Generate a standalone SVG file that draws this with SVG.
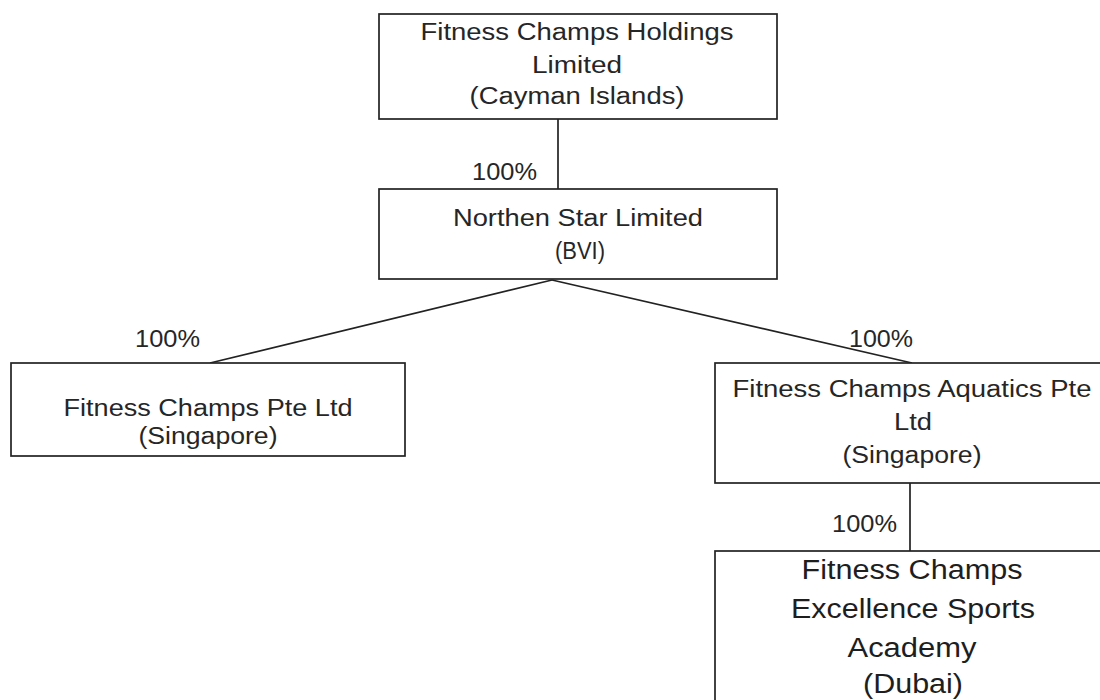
<svg xmlns="http://www.w3.org/2000/svg" width="1100" height="700" viewBox="0 0 1100 700">
<style>
.box{fill:#fff;stroke:#222;stroke-width:1.7}
.t{font-family:"Liberation Sans",Arial,sans-serif;font-size:23px;fill:#262626;text-anchor:middle}
.tb{font-family:"Liberation Sans",Arial,sans-serif;font-size:27px;fill:#1e1e1e;text-anchor:middle}
.lbl{font-family:"Liberation Sans",Arial,sans-serif;font-size:23px;fill:#262626}
.c{stroke:#222;stroke-width:1.7;fill:none}
</style>
<rect width="1100" height="700" fill="#fff"/>
<g id="connectors">
<line class="c" x1="558" y1="119" x2="558" y2="189"/>
<line class="c" x1="552" y1="280" x2="210" y2="363"/>
<line class="c" x1="552" y1="280" x2="912" y2="363"/>
<line class="c" x1="910" y1="483" x2="910" y2="551"/>
<text class="lbl" x="472" y="180" textLength="65" lengthAdjust="spacingAndGlyphs">100%</text>
<text class="lbl" x="135" y="347" textLength="65" lengthAdjust="spacingAndGlyphs">100%</text>
<text class="lbl" x="849" y="347" textLength="64" lengthAdjust="spacingAndGlyphs">100%</text>
<text class="lbl" x="832" y="532" textLength="65" lengthAdjust="spacingAndGlyphs">100%</text>
</g>
<g id="holdings">
<rect class="box" x="379" y="14" width="398" height="105"/>
<text class="t" x="577" y="40" textLength="313" lengthAdjust="spacingAndGlyphs">Fitness Champs Holdings</text>
<text class="t" x="577" y="73" textLength="90" lengthAdjust="spacingAndGlyphs">Limited</text>
<text class="t" x="577" y="104" textLength="215" lengthAdjust="spacingAndGlyphs">(Cayman Islands)</text>
</g>
<g id="northen">
<rect class="box" x="379" y="189" width="398" height="90"/>
<text class="t" x="578" y="226" textLength="250" lengthAdjust="spacingAndGlyphs">Northen Star Limited</text>
<text class="t" x="580" y="259" textLength="50" lengthAdjust="spacingAndGlyphs">(BVI)</text>
</g>
<g id="fc-pte">
<rect class="box" x="11" y="363" width="394" height="93"/>
<text class="t" x="208" y="416" textLength="289" lengthAdjust="spacingAndGlyphs">Fitness Champs Pte Ltd</text>
<text class="t" x="208" y="444" textLength="139" lengthAdjust="spacingAndGlyphs">(Singapore)</text>
</g>
<g id="fc-aquatics">
<rect class="box" x="715" y="363" width="400" height="120"/>
<text class="t" x="912" y="397" textLength="359" lengthAdjust="spacingAndGlyphs">Fitness Champs Aquatics Pte</text>
<text class="t" x="913" y="430" textLength="38" lengthAdjust="spacingAndGlyphs">Ltd</text>
<text class="t" x="912" y="463" textLength="139" lengthAdjust="spacingAndGlyphs">(Singapore)</text>
</g>
<g id="fc-dubai">
<rect class="box" x="715" y="551" width="400" height="200"/>
<text class="tb" x="912" y="579" textLength="221" lengthAdjust="spacingAndGlyphs">Fitness Champs</text>
<text class="tb" x="913" y="618" textLength="244" lengthAdjust="spacingAndGlyphs">Excellence Sports</text>
<text class="tb" x="912" y="657" textLength="129" lengthAdjust="spacingAndGlyphs">Academy</text>
<text class="tb" x="913" y="693" textLength="100" lengthAdjust="spacingAndGlyphs">(Dubai)</text>
</g>
</svg>
